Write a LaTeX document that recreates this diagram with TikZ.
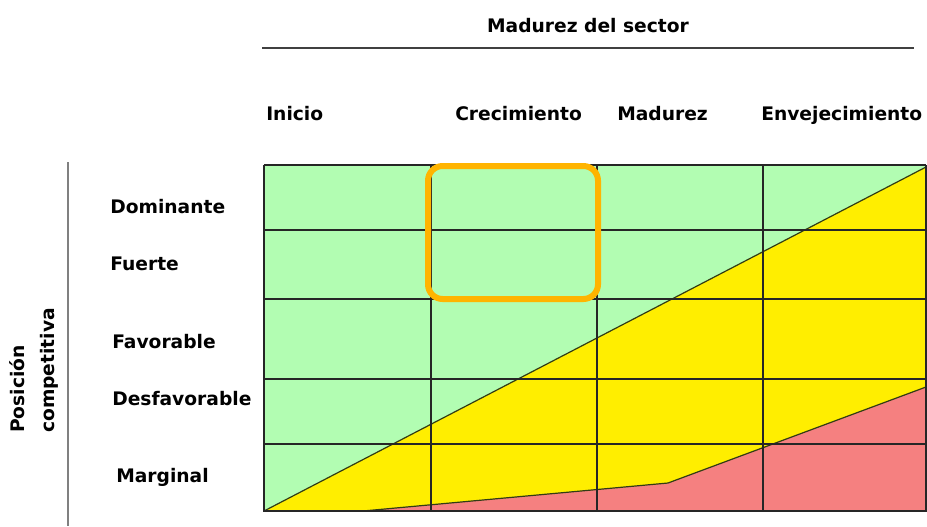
\documentclass[tikz,border=0pt]{standalone}
\usepackage{fontspec}
\setmainfont{DejaVu Sans}
\definecolor{zgreen}{RGB}{178,253,178}
\definecolor{zyellow}{RGB}{255,238,0}
\definecolor{zred}{RGB}{245,128,128}
\definecolor{zorange}{RGB}{255,180,0}
\definecolor{zedge}{RGB}{50,60,20}

\begin{document}
\begin{tikzpicture}[x=0.75pt,y=-0.75pt,
  lbl/.style={font=\bfseries\fontsize{14}{17}\selectfont, inner sep=0pt, text height=10.5pt, text depth=3pt},
  grid/.style={line width=2pt, black!85},
  border/.style={line width=0.9pt, zedge}]
  \useasboundingbox (0,0) rectangle (927,526);
  \fill[white] (0,0) rectangle (927,526);

  % zonas de color
  \fill[zgreen] (264,165) rectangle (926,511);
  \fill[zyellow] (264,511) -- (926,167) -- (926,511) -- cycle;
  \fill[zred] (363,511) -- (668,483) -- (926,387) -- (926,511) -- cycle;
  \draw[border] (264,511) -- (926,167);
  \draw[border] (363,511) -- (668,483) -- (926,387);

  % rejilla
  \foreach \x in {264,431,597,763,926}
    \draw[grid] (\x,165) -- (\x,512);
  \foreach \y in {165,230,299,379,444,511}
    \draw[grid] (264,\y) -- (926,\y);

  \draw[zorange, line width=4.5pt, rounded corners=11pt] (428,166) rectangle (598,299);

  % titulos
  \node[lbl] (sector) at (588,27) {Madurez del sector};
  \draw[line width=1.1pt, black!75] (262,48) -- (914,48);
  \node[lbl, anchor=west] (inicio) at (266,115) {Inicio};
  \node[lbl, anchor=west] (crec) at (455,115) {Crecimiento};
  \node[lbl, anchor=west] (madur) at (617,115) {Madurez};
  \node[lbl, anchor=west] (envej) at (761,115) {Envejecimiento};

  \node[lbl, anchor=west] (dom) at (110,208) {Dominante};
  \node[lbl, anchor=west] (fuerte) at (110,265) {Fuerte};
  \node[lbl, anchor=west] (favor) at (112,343) {Favorable};
  \node[lbl, anchor=west] (desfav) at (112,400) {Desfavorable};
  \node[lbl, anchor=west] (marg) at (116,477) {Marginal};

  \draw[line width=1.5pt, black!50] (68,162) -- (68,526);
  \node[lbl, font=\bfseries\fontsize{14}{22}\selectfont, align=left, rotate=90, anchor=west] (pos) at (49,433) {Posición\\competitiva};
\end{tikzpicture}
\end{document}
